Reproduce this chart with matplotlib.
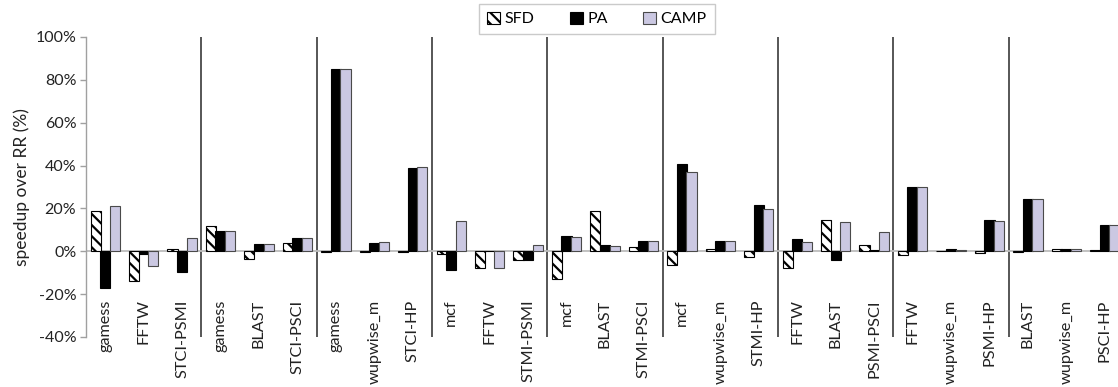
import matplotlib
matplotlib.use("Agg")
import matplotlib.pyplot as plt
import numpy as np

# Benchmarks, three per workload mix
categories = ["gamess", "FFTW", "STCI-PSMI",
              "gamess", "BLAST", "STCI-PSCI",
              "gamess", "wupwise_m", "STCI-HP",
              "mcf", "FFTW", "STMI-PSMI",
              "mcf", "BLAST", "STMI-PSCI",
              "mcf", "wupwise_m", "STMI-HP",
              "FFTW", "BLAST", "PSMI-PSCI",
              "FFTW", "wupwise_m", "PSMI-HP",
              "BLAST", "wupwise_m", "PSCI-HP"]

# Speedup over RR (%)
sfd = [18.7, -13.9, 1.2, 11.7, -3.4, 3.9, -0.5, -0.5, -0.5,
       -1.4, -8.0, -4.2, -12.8, 18.7, 2.0, -6.2, 1.2, -2.7,
       -7.8, 14.5, 2.8, -1.7, 0.2, -0.6, -0.2, 1.2, 0.4]
pa = [-17.2, -1.1, -9.5, 9.4, 3.3, 6.1, 85.2, 4.1, 38.9,
      -8.6, 0.3, -4.2, 7.0, 2.8, 4.8, 40.6, 4.8, 21.4,
      5.6, -4.1, 0.8, 30.1, 0.9, 14.7, 24.2, 1.2, 12.2]
camp = [21.0, -7.0, 6.0, 9.4, 3.3, 6.1, 85.2, 4.4, 39.2,
        14.2, -7.6, 2.8, 6.7, 2.5, 4.8, 37.0, 4.8, 19.8,
        4.5, 13.9, 9.2, 30.1, 0.4, 14.0, 24.2, 1.2, 12.2]
series_names = ["SFD", "PA", "CAMP"]
group_size = 3
yticks = [-40, -20, 0, 20, 40, 60, 80, 100]

plt.rcParams["font.family"] = ["Lato", "DejaVu Sans"]
plt.rcParams["hatch.linewidth"] = 1.6
plt.rcParams["hatch.color"] = "black"

fig = plt.figure(figsize=(11.18, 3.87), dpi=100)
ax = fig.add_axes([86 / 1118, 50 / 387, 1038 / 1118, 300 / 387])

x = np.arange(len(categories))
w = 0.265
step = 0.25
ax.bar(x - step, sfd, w, facecolor="white", edgecolor="black",
       hatch="\\\\\\", linewidth=0.8, label=series_names[0], zorder=3)
ax.bar(x, pa, w, facecolor="black", edgecolor="black",
       linewidth=0.8, label=series_names[1], zorder=3)
ax.bar(x + step, camp, w, facecolor="#cbc8e2", edgecolor="#4a4a4a",
       linewidth=0.8, label=series_names[2], zorder=3)

ax.set_xlim(-0.5, len(categories) - 0.5)
ax.set_ylim(-40, 100)
ax.axhline(0, color="#bcbcbc", linewidth=1.3, zorder=2)

# separators between workload groups
for b in np.arange(group_size, len(categories), group_size) - 0.5:
    ax.axvline(b, color="#3a3a3a", linewidth=1.2, zorder=1)

ax.set_yticks(yticks)
ax.set_yticklabels([f"{v}%" for v in yticks], fontsize=11.5, color="#222222")
ax.set_xticks(x)
ax.set_xticklabels(categories, rotation=90, fontsize=11.7, color="#222222")
for lbl in ax.get_xticklabels():
    lbl.set_verticalalignment("top")
# category names start a little above the bottom of the value range
ax.tick_params(axis="x", length=0, pad=-27)
ax.tick_params(axis="y", length=4, color="#a0a0a0", width=1, pad=3)

for s in ["top", "right", "bottom"]:
    ax.spines[s].set_visible(False)
ax.spines["left"].set_color("#a0a0a0")
ax.spines["left"].set_linewidth(1)

ax.set_ylabel("speedup over RR (%)", fontsize=12.5, color="#222222", labelpad=4)

leg = fig.legend(loc="center", bbox_to_anchor=(597 / 1118, 1 - 19 / 387),
                 ncol=3, frameon=True, fancybox=False, fontsize=11.5,
                 handlelength=0.8, handleheight=0.8, handletextpad=0.3,
                 columnspacing=2.2, borderpad=0.5)
leg.get_frame().set_edgecolor("#bdbdbd")
leg.get_frame().set_linewidth(1)

fig.savefig("out.png", dpi=100)
